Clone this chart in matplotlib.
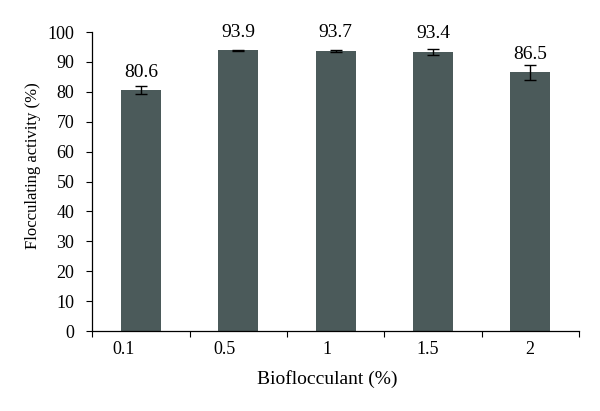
import numpy as np
import matplotlib
matplotlib.use("Agg")
import matplotlib.pyplot as plt
from matplotlib.transforms import ScaledTranslation

categories = ["0.1", "0.5", "1", "1.5", "2"]
activity = [80.6, 93.9, 93.7, 93.4, 86.5]
errors = [1.45, 0.15, 0.45, 0.95, 2.4]

plt.rcParams['font.family'] = ['Liberation Serif', 'DejaVu Serif']

fig = plt.figure(figsize=(6, 4.11), dpi=100)
ax = fig.add_axes([0.154, 0.1946, 0.811, 0.7275])

x = np.arange(len(categories))
ax.bar(x, activity, width=0.41, color='#4b5a5a', zorder=2)
ax.errorbar(x, activity, yerr=errors, fmt='none', ecolor='black',
            elinewidth=1.0, capsize=4, capthick=1.0, zorder=3)
for xi, v in zip(x, activity):
    ax.annotate(f"{v}", (xi, v), xytext=(0, 9.7), textcoords='offset points',
                ha='center', va='baseline', fontsize=14)

ax.set_xlim(-0.5, len(categories) - 0.5)
ax.set_ylim(0, 100)
ax.set_yticks(np.arange(0, 101, 10))
ax.set_xticks(x)
ax.set_xticklabels(categories)
ax.set_xticks(np.arange(-0.5, len(categories)), minor=True)
ax.tick_params(axis='x', which='major', length=0, labelsize=13, pad=7.5)
ax.tick_params(axis='x', which='minor', length=4, width=0.8, direction='out')
ax.tick_params(axis='y', length=4, width=0.8, direction='out', labelsize=13, pad=9)

# the category labels sit a little left of the bars in the original
shifts = [-17.5, -14, -9, -5, -1]
for lbl, dx in zip(ax.get_xticklabels(), shifts):
    lbl.set_transform(lbl.get_transform() + ScaledTranslation(dx / 100, 0, fig.dpi_scale_trans))

for s in ['top', 'right']:
    ax.spines[s].set_visible(False)
for s in ['left', 'bottom']:
    ax.spines[s].set_linewidth(0.9)

ax.set_xlabel("Bioflocculant (%)", fontsize=14)
ax.xaxis.set_label_coords(0.482, -0.13)
ax.set_ylabel("Flocculating activity (%)", fontsize=12)
ax.yaxis.set_label_coords(-0.106, 0.552)

fig.savefig("out.png", dpi=100)
